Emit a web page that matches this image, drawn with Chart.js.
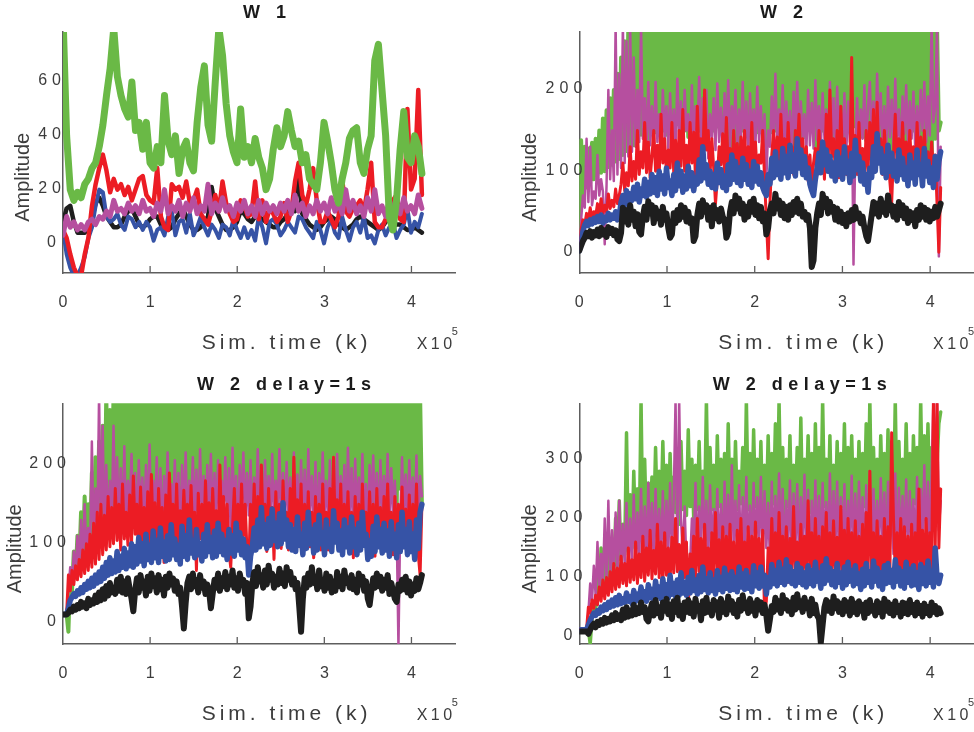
<!DOCTYPE html>
<html><head><meta charset="utf-8">
<script src="https://cdn.jsdelivr.net/npm/chart.js@4.4.1/dist/chart.umd.min.js"></script>
<style>
html,body{margin:0;padding:0;background:#fff;}
#wrap{position:relative;width:974px;height:732px;overflow:hidden;background:#fff;}
#wrap canvas{position:absolute;left:0;top:0;}
</style></head><body>
<div id="wrap">
<canvas id="c1" width="974" height="732"></canvas>
<canvas id="c2" width="974" height="732"></canvas>
<canvas id="c3" width="974" height="732"></canvas>
<canvas id="c4" width="974" height="732"></canvas>
</div>
<script>
// ---------- text / ticks ----------
const panelTitles = ['W 1', 'W 2', 'W 2 delay=1s', 'W 2 delay=1s'];
const xAxisLabel = 'Sim. time (k)';
const yAxisLabel = 'Amplitude';
const xTickValues = [0, 1, 2, 3, 4];
const yTicksW1 = [0, 20, 40, 60];
const yTicksW2 = [0, 100, 200];
const yTicksW2DelayA = [0, 100, 200];
const yTicksW2DelayB = [0, 100, 200, 300];
const lastSampleTime = 4.12; // x10^5

// ---------- W 1 (100 samples) ----------
const w1Black = [8,13,14,8,4,4,4,6,9,15,
 17,14,10,8,6,6,7,10,12,13,
 10,7,6,7,9,10,10,7,6,5,
 6,9,11,13,10,7,5,5,6,8,
 10,21,13,10,7,5,5,6,8,12,
 11,9,8,10,10,9,8,7,6,6,
 8,9,11,14,12,28,11,9,7,6,
 5,6,8,9,10,9,7,6,5,6,
 7,9,10,9,8,7,6,5,6,8,
 9,8,7,7,6,5,5,6,5,4];
const w1Blue = [5,-4,-9,-12,-12,-9,-5,2,6,14,
 20,19,10,8,9,11,7,5,10,9,
 6,8,5,8,6,1,5,6,3,10,
 12,3,8,9,4,11,3,6,10,6,
 3,7,5,2,7,6,3,9,5,2,
 6,2,5,1,10,6,0,8,9,7,
 3,5,8,6,4,10,9,6,4,2,
 8,5,0,6,9,4,2,10,5,1,
 6,8,4,10,2,3,0,5,7,3,
 6,8,2,5,7,13,4,8,6,11];
const w1Red = [5,2,-4,-9,-12,-12,-4,2,14,22,
 28,33,27,19,24,20,22,18,21,16,
 20,24,25,18,16,15,28,10,6,5,
 22,20,21,17,23,15,16,20,11,9,
 7,12,18,12,23,15,11,8,9,16,
 14,10,11,23,9,16,8,13,11,8,
 10,15,8,12,23,30,18,14,20,28,
 16,8,8,12,9,6,10,24,12,10,
 13,14,16,12,20,30,8,6,6,9,
 11,16,18,9,8,50,20,24,57,18];
const w1Magenta = [3,10,6,8,5,7,5,8,9,7,
 10,9,12,10,16,12,13,11,15,12,
 14,11,16,12,13,10,15,12,20,11,
 14,12,16,10,15,12,17,11,14,12,
 22,11,15,12,17,12,14,10,15,12,
 16,11,14,10,16,11,15,12,14,11,
 15,12,16,11,18,12,15,10,14,11,
 16,12,15,11,17,12,15,11,20,12,
 16,11,14,10,17,12,20,11,14,10,
 16,12,15,11,17,12,14,11,18,13];
const w1Green = [85,40,20,16,19,17,22,24,28,30,
 36,44,55,65,80,62,55,50,47,60,
 42,45,35,45,30,28,36,30,55,38,
 33,40,26,35,38,30,27,45,58,66,
 44,38,60,80,70,52,40,34,30,50,
 32,36,30,39,32,28,20,24,35,43,
 36,40,49,42,36,38,30,33,24,22,
 20,30,45,38,30,20,15,24,30,39,
 42,43,30,26,35,40,68,74,57,40,
 10,5,16,35,49,32,30,40,36,26];

// ---------- W 2 (200 samples) ----------
const w2Black = [2,8,14,18,24,20,26,18,25,21,
 28,20,30,22,27,19,31,24,29,21,
 27,16,14,24,55,38,52,34,58,40,
 50,32,47,25,22,44,56,40,63,48,
 58,36,55,42,50,34,56,40,48,30,
 18,22,48,36,52,40,58,44,55,38,
 50,36,42,14,20,46,60,44,64,50,
 58,40,55,32,58,42,52,38,54,44,
 40,18,24,50,62,48,70,54,66,48,
 60,40,56,44,62,50,66,46,58,42,
 56,38,48,22,30,52,60,48,72,54,
 64,46,60,42,56,40,58,46,62,50,
 66,48,60,44,50,40,46,30,-18,-10,
 30,48,60,46,72,56,66,48,62,50,
 56,40,54,38,50,36,46,32,48,38,
 52,40,56,42,48,36,44,30,20,14,
 30,46,62,48,60,44,66,50,60,46,
 70,52,58,44,56,40,62,46,58,42,
 54,36,50,40,48,32,52,40,58,44,
 55,40,52,38,50,42,56,44,52,60];
const w2Blue = [2,14,26,34,38,33,40,35,42,37,
 44,38,46,36,43,39,48,40,46,42,
 50,40,44,62,70,58,76,60,72,64,
 80,66,84,62,78,70,90,68,86,72,
 96,74,92,70,100,78,94,72,104,80,
 88,70,96,76,110,82,100,74,94,78,
 106,82,98,76,92,84,114,88,130,92,
 108,84,100,80,96,78,110,86,102,80,
 94,76,108,84,120,90,112,86,104,82,
 116,90,108,84,100,80,112,88,106,84,
 98,80,74,70,96,84,116,92,124,96,
 110,90,128,98,118,92,132,100,120,94,
 140,104,126,96,118,92,104,84,76,70,
 90,104,122,98,136,108,126,100,118,94,
 110,88,124,96,116,90,130,98,112,86,
 122,94,138,102,118,88,110,84,96,74,
 104,92,130,100,146,110,128,98,118,92,
 132,100,122,94,112,88,126,96,116,90,
 104,82,120,92,110,84,126,96,108,82,
 128,94,112,86,104,80,118,90,112,124];
const w2Red = [5,28,40,34,48,38,55,42,50,44,
 60,46,66,48,58,50,72,54,64,56,
 78,60,70,84,110,76,98,82,130,88,
 112,90,150,96,124,104,160,98,136,92,
 118,150,100,132,94,170,110,140,96,126,
 104,160,98,138,92,150,106,176,100,132,
 96,160,110,148,90,180,112,140,104,200,
 126,150,96,140,104,60,90,130,108,146,
 96,166,104,128,92,150,100,134,88,142,
 106,150,92,130,102,160,98,136,94,120,
 110,150,92,40,-8,60,120,150,104,142,
 96,170,108,140,100,160,112,130,96,150,
 120,170,104,140,96,130,88,120,76,110,
 128,96,150,104,136,90,170,106,200,118,
 140,100,150,92,180,110,140,96,130,104,
 240,110,144,96,160,106,128,92,150,100,
 160,110,176,100,185,112,140,96,150,108,
 130,88,60,120,170,104,140,98,160,106,
 136,96,150,100,130,88,160,104,142,96,
 150,100,124,90,136,104,120,60,0,80];
const w2Magenta = [5,40,70,55,140,62,130,58,75,66,
 120,70,90,75,10,82,200,90,150,88,
 280,96,220,104,280,110,260,118,280,124,
 240,130,200,136,280,140,190,128,210,132,
 180,120,210,136,170,124,200,140,180,128,
 196,134,176,122,214,140,186,118,200,150,
 170,120,206,132,180,142,216,124,190,146,
 200,116,170,140,190,126,208,136,178,120,
 196,142,212,128,180,150,200,126,176,140,
 210,124,186,118,196,140,176,132,204,136,
 180,126,170,90,150,130,192,138,220,128,
 176,144,206,128,186,136,174,120,198,142,
 210,126,186,140,170,120,200,132,184,128,
 212,138,180,126,196,140,176,118,210,134,
 190,124,204,142,180,130,196,120,186,136,
 200,-15,130,190,120,176,140,206,126,180,
 210,140,186,126,220,148,196,130,180,124,
 204,142,188,130,214,136,176,120,192,146,
 206,132,186,140,198,126,180,138,200,150,
 210,136,192,144,280,160,180,280,-5,130];
const w2Green = [5,138,70,130,80,128,85,135,90,140,
 95,150,98,165,100,175,105,190,108,200,
 112,220,115,240,120,260,125,280,128,280,
 132,280,138,280,145,280,150,280,140,280,
 155,280,148,280,160,280,150,280,145,280,
 152,280,150,280,158,280,165,280,150,280,
 142,280,155,280,160,280,150,280,130,280,
 158,280,162,280,150,280,155,280,148,280,
 140,280,125,280,118,280,100,280,122,280,
 150,280,145,280,152,280,140,280,148,280,
 162,280,155,280,135,280,148,280,150,280,
 140,280,132,280,145,280,128,280,120,280,
 115,280,132,280,142,280,156,280,150,280,
 130,280,142,280,150,280,160,280,148,280,
 138,280,100,280,120,280,140,280,150,280,
 160,280,155,280,150,280,142,280,138,280,
 120,280,130,280,145,280,132,280,140,280,
 105,280,118,280,140,280,150,280,148,280,
 136,280,145,280,150,280,142,280,128,280,
 110,280,120,280,100,280,140,280,150,160];

// ---------- W 2 delay=1s, left (200 samples) ----------
const w2dABlack = [10,10,10,12,16,14,20,16,22,18,
 26,20,24,18,30,22,28,24,34,26,
 38,28,42,30,46,34,50,38,44,36,
 54,40,58,38,52,36,56,42,30,14,
 40,56,38,60,44,52,34,58,40,62,
 46,56,38,60,42,54,34,58,44,62,
 48,56,40,52,36,44,20,-8,24,50,
 58,42,62,46,54,38,60,44,52,36,
 48,40,18,36,54,44,62,40,56,46,
 64,42,58,48,66,44,56,40,62,50,
 54,36,50,5,20,50,64,46,70,52,
 60,44,66,48,72,54,62,44,58,48,
 68,50,62,46,70,54,64,48,56,42,
 50,20,-12,30,56,44,62,48,70,50,
 58,42,66,46,54,40,62,44,58,38,
 52,40,64,46,58,42,66,50,56,44,
 60,42,54,38,62,48,58,40,52,30,
 22,40,56,44,62,46,58,40,54,44,
 60,36,50,40,30,26,48,40,54,42,
 58,38,52,34,48,40,56,42,50,60];
const w2dABlue = [10,10,10,18,28,32,36,33,40,36,
 44,38,48,42,52,44,56,46,60,50,
 64,52,70,56,76,60,82,62,78,64,
 90,66,84,70,94,68,88,72,100,70,
 96,74,108,78,100,72,112,80,98,76,
 116,82,104,76,120,84,102,78,110,80,
 124,86,106,80,98,74,122,84,110,80,
 130,88,104,82,118,86,100,78,112,84,
 124,90,108,82,116,84,126,90,112,86,
 104,80,118,88,110,84,126,92,114,86,
 106,82,96,60,84,96,120,92,130,96,
 146,100,124,94,132,98,144,104,126,96,
 138,100,152,106,130,96,124,92,118,90,
 134,98,112,86,126,94,140,100,118,88,
 124,92,136,100,114,86,130,96,118,90,
 142,102,126,92,116,86,130,96,120,88,
 134,96,118,86,126,92,140,98,112,80,
 104,84,122,90,134,96,118,88,126,92,
 116,84,128,94,112,82,124,90,140,96,
 118,86,128,90,112,80,130,94,140,150];
const w2dARed = [10,10,10,60,40,66,48,72,54,80,
 58,92,62,100,66,112,70,126,74,140,
 80,150,86,136,92,160,96,146,100,170,
 104,150,92,176,106,140,98,162,100,186,
 112,150,88,172,102,146,94,166,100,188,
 110,152,84,170,100,146,76,162,100,190,
 112,150,90,176,98,142,104,168,110,150,
 96,174,102,140,66,164,106,150,94,180,
 110,152,98,170,104,142,92,200,110,160,
 100,150,90,70,120,170,100,150,96,176,
 110,150,92,72,150,100,176,96,160,104,
 200,112,150,90,170,100,146,80,166,100,
 150,94,180,110,140,92,170,100,210,112,
 156,96,176,88,150,100,166,96,140,82,
 160,100,150,92,176,104,140,92,170,100,
 210,112,156,96,176,86,150,100,166,96,
 140,82,160,100,150,92,176,102,140,88,
 166,96,150,84,170,100,146,92,160,104,
 176,100,140,86,160,94,150,100,172,96,
 144,88,162,100,150,92,176,86,60,150];
const w2dAMagenta = [10,10,10,40,70,50,90,60,110,70,
 130,76,150,84,120,90,230,96,170,100,
 290,106,250,110,200,116,180,120,250,126,
 210,130,196,118,224,124,180,136,214,126,
 190,112,206,134,184,122,200,128,226,116,
 180,140,210,122,196,108,186,136,216,120,
 176,140,206,126,190,112,200,136,216,122,
 180,146,210,126,194,116,220,132,186,110,
 200,140,214,126,190,136,206,118,180,142,
 210,126,196,114,222,132,186,110,200,140,
 216,124,190,136,206,118,184,140,220,130,
 190,116,206,138,186,124,214,132,180,140,
 220,126,190,114,204,136,184,122,216,140,
 188,118,206,132,194,116,220,138,186,126,
 204,112,190,140,216,128,180,136,206,120,
 190,134,214,122,186,140,200,116,222,130,
 196,120,208,136,184,124,214,132,176,118,
 200,140,212,126,190,118,206,138,186,128,
 214,120,196,140,180,124,-30,130,210,136,
 188,124,206,140,184,130,212,126,186,160];
const w2dAGreen = [10,10,10,-12,60,40,90,60,110,75,
 140,85,160,90,150,100,190,110,210,115,
 230,120,250,125,290,130,270,135,290,140,
 290,145,290,150,290,138,290,130,290,150,
 290,160,290,155,290,148,290,165,290,152,
 290,160,290,145,290,158,290,170,290,150,
 290,142,290,160,290,155,290,148,290,165,
 290,150,290,140,290,158,290,162,290,145,
 290,130,290,150,290,160,290,148,290,170,
 290,155,290,162,290,150,290,145,290,160,
 290,168,290,150,290,140,290,158,290,165,
 290,150,290,162,290,170,290,155,290,148,
 290,160,290,175,290,150,290,145,290,168,
 290,140,290,160,290,170,290,150,290,165,
 290,155,290,148,290,175,290,160,290,150,
 290,135,290,150,290,165,290,158,290,170,
 290,150,290,160,290,145,290,170,290,155,
 290,165,290,150,290,140,290,160,290,150,
 290,165,290,158,290,145,290,170,290,150,
 290,160,290,150,290,165,290,145,290,150];

// ---------- W 2 delay=1s, right (200 samples) ----------
const w2dBBlack = [9,9,9,9,9,5,12,18,22,16,
 25,20,28,22,32,24,30,26,36,28,
 40,30,36,28,46,32,50,34,44,36,
 54,38,48,40,58,42,50,30,26,44,
 56,36,62,40,50,32,58,44,64,38,
 54,30,60,42,66,36,52,30,58,42,
 62,40,56,34,64,44,52,28,60,40,
 66,42,54,36,62,46,58,32,64,42,
 56,38,68,46,60,40,54,34,62,44,
 70,48,58,40,64,44,56,36,62,46,
 58,40,54,36,10,30,52,42,66,46,
 60,40,70,48,62,44,58,38,66,46,
 72,50,60,42,66,48,58,36,64,40,
 54,36,30,-10,20,50,62,44,58,40,
 68,48,60,42,56,38,62,44,58,36,
 64,42,56,38,60,44,54,32,58,40,
 62,44,52,36,60,42,56,34,64,44,
 58,40,54,36,60,42,52,34,58,40,
 56,38,62,42,54,36,58,40,52,34,
 56,40,50,36,58,42,52,38,48,40];
const w2dBBlue = [12,12,12,12,12,20,28,34,40,36,
 44,40,50,44,54,46,58,50,62,52,
 66,54,70,56,64,58,74,60,68,56,
 78,60,72,62,84,64,76,60,88,66,
 80,62,94,68,84,64,98,70,88,66,
 104,72,90,68,96,70,108,74,92,70,
 100,74,112,78,96,72,104,76,118,80,
 98,74,108,78,96,72,112,80,100,76,
 116,82,104,78,110,80,100,76,118,84,
 106,80,112,82,100,76,120,86,108,82,
 118,86,104,72,100,84,122,90,112,86,
 126,92,114,88,130,94,118,90,110,86,
 124,92,116,88,108,84,120,90,112,86,
 126,94,108,82,120,90,132,96,116,88,
 110,84,124,92,108,82,118,88,126,94,
 112,86,120,90,106,80,114,86,124,92,
 110,84,128,94,116,86,108,80,120,90,
 124,92,112,84,130,94,116,86,110,82,
 126,92,114,86,120,88,108,80,122,90,
 116,86,128,92,110,84,150,100,90,104];
const w2dBRed = [13,13,13,13,13,50,40,62,48,70,
 54,84,60,96,64,100,70,110,76,124,
 80,116,84,136,90,124,86,150,92,130,
 96,160,90,140,100,170,94,150,104,180,
 98,146,106,190,100,160,92,176,104,150,
 96,168,108,200,110,156,94,184,100,160,
 50,140,106,170,98,200,110,166,96,190,
 104,150,90,176,100,210,112,164,96,186,
 108,170,94,190,100,160,88,180,104,200,
 96,160,110,186,92,170,100,194,108,166,
 90,180,40,60,150,104,200,110,176,96,
 210,112,170,100,186,92,166,110,220,104,
 160,96,190,110,170,100,230,114,176,96,
 200,104,170,92,186,110,210,96,176,100,
 196,110,168,94,220,104,180,96,200,110,
 176,100,196,90,170,104,190,96,210,106,
 280,110,176,98,196,104,170,92,200,106,
 186,100,345,200,110,176,96,200,104,186,
 110,170,96,190,104,176,100,250,110,180,
 104,200,96,176,110,400,150,400,150,250];
const w2dBMagenta = [12,12,12,12,12,40,90,60,120,70,
 160,80,140,90,200,96,230,100,180,106,
 210,110,230,114,190,120,226,116,200,124,
 240,118,210,126,250,130,220,120,260,136,
 226,128,250,140,216,132,246,126,230,138,
 260,134,236,400,140,400,200,136,220,120,
 45,120,200,146,260,132,220,150,270,140,
 230,126,256,148,216,136,250,142,224,130,
 262,146,240,128,290,150,230,138,256,120,
 236,150,270,134,222,146,260,140,236,156,
 270,134,246,150,226,126,262,146,238,136,
 276,140,250,128,230,150,264,136,242,146,
 258,130,236,150,274,140,248,126,230,156,
 264,142,238,130,260,150,228,140,276,136,
 246,150,262,128,236,146,258,138,230,152,
 272,140,242,130,262,150,236,126,256,146,
 280,136,250,150,230,140,268,156,244,132,
 262,148,236,140,276,130,252,150,238,142,
 266,136,246,156,232,140,270,150,250,160,
 290,150,262,144,276,400,260,400,180,230];
const w2dBGreen = [12,12,12,12,12,12,-12,30,60,45,
 100,70,150,85,130,95,175,100,160,110,
 200,120,230,130,190,140,345,145,240,150,
 280,160,250,165,400,170,300,175,260,185,
 270,190,320,195,280,200,330,205,290,195,
 310,200,270,210,300,190,330,215,280,205,
 350,220,300,200,290,215,330,205,280,210,
 400,205,320,215,290,195,340,220,300,200,
 310,190,360,220,300,205,330,215,280,225,
 320,200,400,215,310,205,350,220,300,210,
 330,195,290,210,340,200,310,225,360,205,
 400,215,320,200,300,220,340,205,290,215,
 320,210,370,200,300,225,340,210,310,195,
 360,215,320,205,400,220,300,210,340,200,
 290,215,330,205,310,220,360,200,320,210,
 340,215,300,205,330,195,310,220,360,210,
 400,205,320,215,300,200,340,225,310,210,
 350,200,320,215,400,205,330,210,300,220,
 360,215,310,200,340,225,320,210,400,220,
 340,230,360,220,320,240,350,290,360,380];

// ---------- styling ----------
const FONT = '"Liberation Sans", Arial, Helvetica, sans-serif';
const AXIS_COLOR = '#5e5e5e';
const TEXT_COLOR = '#3c3c3c';
const TITLE_COLOR = '#1a1a1a';
const COLORS = { black:'#1e1e1e', blue:'#3653a6', red:'#ec1c24', magenta:'#b64f9f', green:'#6ab946' };

function toPoints(vals) {
  const step = lastSampleTime / (vals.length - 1);
  return vals.map((v, i) => ({ x: i * step, y: v }));
}
function ds(vals, color, width) {
  return { data: toPoints(vals), borderColor: color, backgroundColor: color, borderWidth: width,
           pointRadius: 0, fill: false, tension: 0, clip: 0,
           borderJoinStyle: 'round', borderCapStyle: 'round' };
}

const panels = [
  { canvas:'c1', title: panelTitles[0], area:{l:63, t:32, r:455, b:273}, yMin:-11, yMax:78.6, yTicks:yTicksW1,
    titleX:243, titleY:18.3, xLabelX:201.7, xLabelY:348.5, expX:416.7, yLabelX:23.8, yLabelY:177.3,
    // first dataset is drawn on top
    datasets: [ds(w1Green,COLORS.green,7), ds(w1Magenta,COLORS.magenta,5), ds(w1Red,COLORS.red,4.5),
               ds(w1Blue,COLORS.blue,4), ds(w1Black,COLORS.black,4.5)] },
  { canvas:'c2', title: panelTitles[1], area:{l:579.3, t:32, r:974, b:273}, yMin:-25.5, yMax:271.5, yTicks:yTicksW2,
    titleX:760, titleY:18.3, xLabelX:718.3, xLabelY:348.5, expX:933, yLabelX:530.8, yLabelY:177.3,
    datasets: [ds(w2Black,COLORS.black,6), ds(w2Blue,COLORS.blue,5.5), ds(w2Red,COLORS.red,3),
               ds(w2Magenta,COLORS.magenta,2.5), ds(w2Green,COLORS.green,4)] },
  { canvas:'c3', title: panelTitles[2], area:{l:63, t:403.3, r:455, b:644}, yMin:-27.6, yMax:278.5, yTicks:yTicksW2DelayA,
    titleX:197, titleY:389.5, xLabelX:201.7, xLabelY:720, expX:416.7, yLabelX:15.3, yLabelY:548.8,
    datasets: [ds(w2dABlack,COLORS.black,6), ds(w2dABlue,COLORS.blue,5.5), ds(w2dARed,COLORS.red,3),
               ds(w2dAMagenta,COLORS.magenta,2.5), ds(w2dAGreen,COLORS.green,4)] },
  { canvas:'c4', title: panelTitles[3], area:{l:579.3, t:403.3, r:974, b:644}, yMin:-12.3, yMax:394.7, yTicks:yTicksW2DelayB,
    titleX:712.7, titleY:389.5, xLabelX:718.3, xLabelY:720, expX:933, yLabelX:530.8, yLabelY:548.8,
    datasets: [ds(w2dBBlack,COLORS.black,6), ds(w2dBBlue,COLORS.blue,5.5), ds(w2dBRed,COLORS.red,3),
               ds(w2dBMagenta,COLORS.magenta,2.5), ds(w2dBGreen,COLORS.green,3.5)] }
];

function makeTextPlugin(p) {
  return {
    id: 'panelText',
    afterDraw(chart) {
      const ctx = chart.ctx, xs = chart.scales.x, ys = chart.scales.y, a = chart.chartArea;
      ctx.save();
      ctx.strokeStyle = AXIS_COLOR; ctx.lineWidth = 1.3;
      xTickValues.forEach(v => {
        if (v === 0) return;
        const px = xs.getPixelForValue(v);
        ctx.beginPath(); ctx.moveTo(px, a.bottom); ctx.lineTo(px, a.bottom - 7); ctx.stroke();
      });
      ctx.fillStyle = TEXT_COLOR;
      ctx.font = '16px ' + FONT;
      ctx.textBaseline = 'middle';
      ctx.textAlign = 'left';
      p.yTicks.forEach(v => {
        const s = String(v);
        ctx.letterSpacing = '0px';
        const w = ctx.measureText(s).width;
        ctx.letterSpacing = '5px';
        ctx.fillText(s, a.left - 7 - w, ys.getPixelForValue(v) - 1);
      });
      ctx.letterSpacing = '0px';
      ctx.textAlign = 'center';
      xTickValues.forEach(v => ctx.fillText(String(v), xs.getPixelForValue(v), a.bottom + 29.5));
      ctx.textAlign = 'left'; ctx.textBaseline = 'alphabetic';
      ctx.fillStyle = TITLE_COLOR;
      ctx.font = 'bold 18px ' + FONT;
      ctx.letterSpacing = '5.5px';
      ctx.fillText(p.title, p.titleX, p.titleY);
      ctx.fillStyle = TEXT_COLOR;
      ctx.font = '21px ' + FONT;
      ctx.letterSpacing = '4px';
      ctx.fillText(xAxisLabel, p.xLabelX, p.xLabelY);
      ctx.font = '16px ' + FONT; ctx.letterSpacing = '3.5px';
      ctx.fillText('X10', p.expX, p.xLabelY);
      ctx.font = '11px ' + FONT; ctx.letterSpacing = '0px';
      ctx.fillText('5', p.expX + 35, p.xLabelY - 14);
      ctx.save();
      ctx.translate(p.yLabelX, p.yLabelY); ctx.rotate(-Math.PI / 2);
      ctx.font = '20px ' + FONT; ctx.textAlign = 'center'; ctx.textBaseline = 'middle';
      ctx.fillText(yAxisLabel, 0, 0);
      ctx.restore();
      ctx.restore();
    }
  };
}

panels.forEach(p => {
  const W = 974, H = 732;
  new Chart(document.getElementById(p.canvas), {
    type: 'line',
    data: { datasets: p.datasets },
    options: {
      responsive: false, animation: false, devicePixelRatio: 1, events: [],
      layout: { padding: { left: p.area.l, top: p.area.t, right: W - p.area.r, bottom: H - p.area.b } },
      plugins: { legend: { display: false }, title: { display: false }, tooltip: { enabled: false } },
      scales: {
        x: { type: 'linear', min: 0, max: 4.5,
             ticks: { display: false }, grid: { display: false },
             border: { display: true, color: AXIS_COLOR, width: 1.5 },
             afterFit: s => { s.height = 0; } },
        y: { type: 'linear', min: p.yMin, max: p.yMax,
             ticks: { display: false }, grid: { display: false },
             border: { display: true, color: AXIS_COLOR, width: 1.5 },
             afterFit: s => { s.width = 0; } }
      }
    },
    plugins: [makeTextPlugin(p)]
  });
});
</script>
</body></html>
